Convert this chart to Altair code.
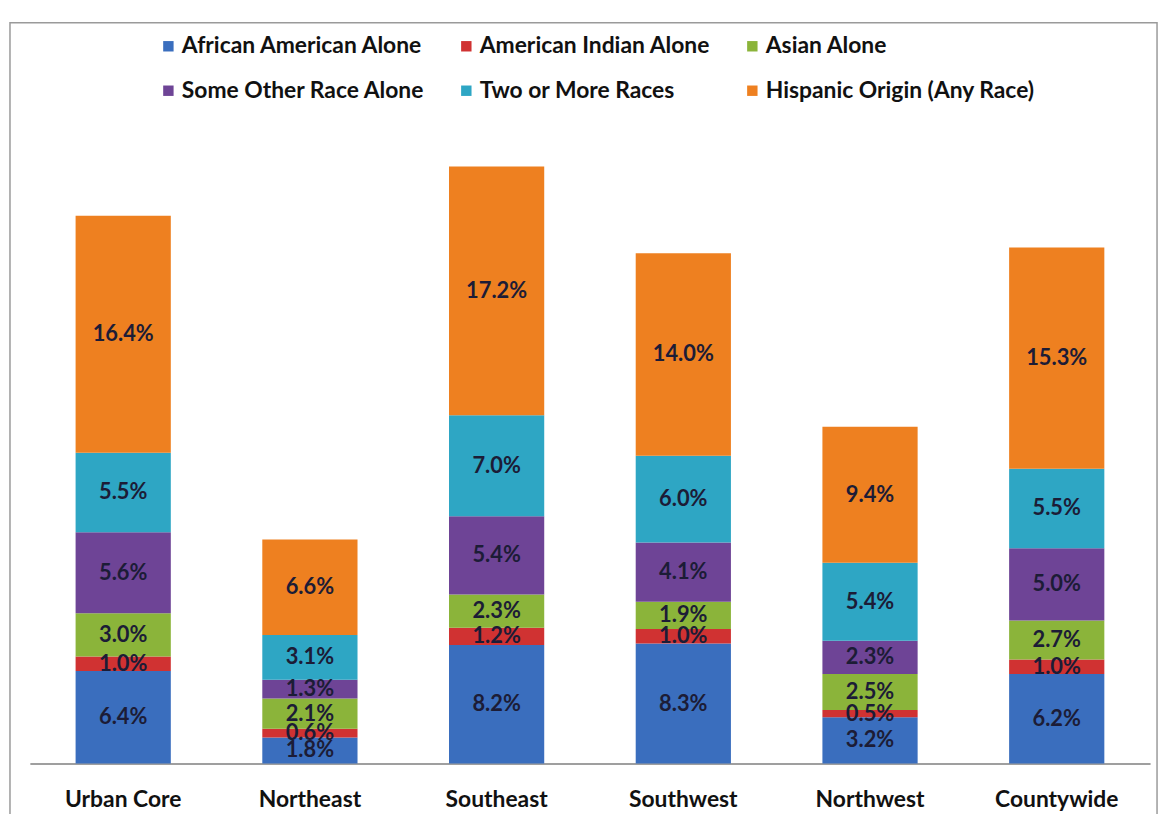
import altair as alt
import pandas as pd

regions = ["Urban Core", "Northeast", "Southeast", "Southwest", "Northwest", "Countywide"]
groups = ["African American Alone", "American Indian Alone", "Asian Alone",
          "Some Other Race Alone", "Two or More Races", "Hispanic Origin (Any Race)"]
african_american = [6.4, 1.8, 8.2, 8.3, 3.2, 6.2]
american_indian = [1.0, 0.6, 1.2, 1.0, 0.5, 1.0]
asian = [3.0, 2.1, 2.3, 1.9, 2.5, 2.7]
some_other = [5.6, 1.3, 5.4, 4.1, 2.3, 5.0]
two_or_more = [5.5, 3.1, 7.0, 6.0, 5.4, 5.5]
hispanic = [16.4, 6.6, 17.2, 14.0, 9.4, 15.3]
colors = ["#3A6EBE", "#D03232", "#8BB43A", "#6E4496", "#2EA6C4", "#EE8020"]

series = [african_american, american_indian, asian, some_other, two_or_more, hispanic]
rows = []
for gi, (g, vals) in enumerate(zip(groups, series)):
    for r, v in zip(regions, vals):
        rows.append({"region": r, "group": g, "value": v, "order": gi})
df = pd.DataFrame(rows)

FONT = "Lato"

base = alt.Chart(df).transform_stack(
    stack="value", as_=["y0", "y1"], groupby=["region"],
    sort=[alt.SortField("order", order="ascending")]
).transform_calculate(
    mid="(datum.y0 + datum.y1) / 2",
    label="format(datum.value, '.1f') + '%'"
)

x_enc = alt.X("region:N", sort=regions, title=None,
              scale=alt.Scale(paddingInner=0.49, paddingOuter=0.245),
              axis=alt.Axis(labelAngle=0, labelFont=FONT, labelFontSize=23,
                            labelFontWeight="bold", labelColor="#111111",
                            labelPadding=25, ticks=False, domainColor="#7f7f7f",
                            domainWidth=1.5))
y_scale = alt.Scale(domain=[0, 45], nice=False)

bars = base.mark_bar().encode(
    x=x_enc,
    y=alt.Y("y0:Q", scale=y_scale, axis=None),
    y2="y1:Q",
    color=alt.Color("group:N", sort=groups,
                    scale=alt.Scale(domain=groups, range=colors),
                    legend=alt.Legend(title=None, orient="none", legendX=128, legendY=-79,
                                      columns=3, direction="horizontal",
                                      symbolType="square", symbolSize=110,
                                      symbolStrokeWidth=0, labelFont=FONT,
                                      labelFontSize=23, labelFontWeight="bold",
                                      labelColor="#111111", labelOffset=2,
                                      columnPadding=30, rowPadding=21,
                                      labelLimit=400)),
)

texts = base.mark_text(font=FONT, fontSize=22, fontWeight="bold", color="#1c1c36").encode(
    x=alt.X("region:N", sort=regions),
    y=alt.Y("mid:Q", scale=y_scale),
    text="label:N",
)

frame = alt.Chart(pd.DataFrame({"a": [0]})).mark_rect(
    fillOpacity=0, stroke="#9a9a9a", strokeWidth=1.5
).encode(
    x=alt.value(-20), x2=alt.value(1135), y=alt.value(-91), y2=alt.value(740)
)

chart = alt.layer(frame, bars, texts).properties(
    width=1128, height=655,
    background="white",
    autosize=alt.AutoSizeParams(type="none"),
    padding={"left": 22, "top": 103, "right": 12, "bottom": 48},
).configure_view(strokeWidth=0, stroke="transparent")

chart.save("out.html", embed_options={"renderer": "svg", "actions": False})
